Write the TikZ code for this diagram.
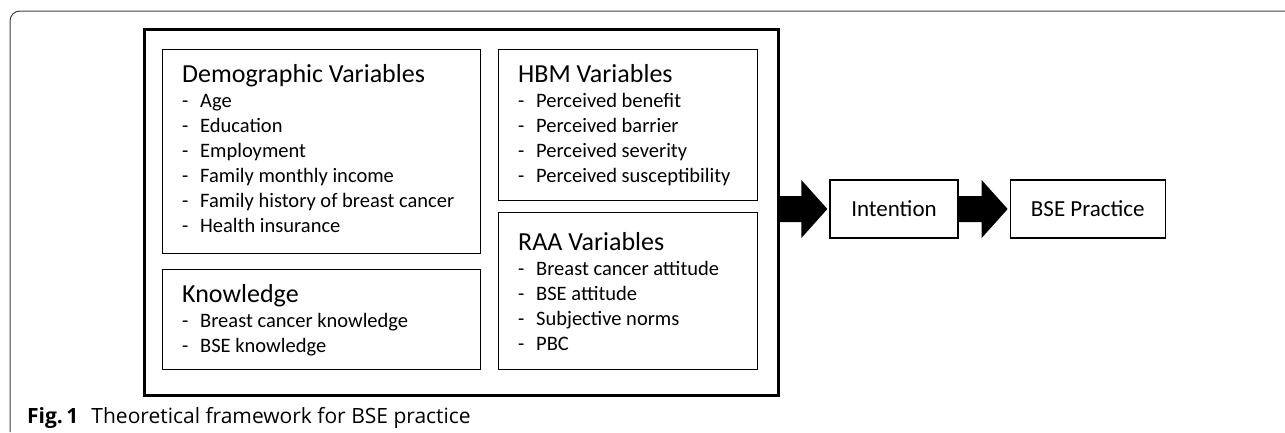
\documentclass[tikz,border=0pt]{standalone}
\usepackage{fontspec}
\setmainfont{Carlito}
\newfontfamily\capfont{Open Sans}
\usetikzlibrary{positioning,calc}

\tikzset{
  box/.style={draw,line width=1.3pt,anchor=north west,inner sep=0pt},
  heading/.style={font=\fontsize{26}{25}\selectfont,anchor=base west,inner sep=0pt},
  entry/.style={font=\fontsize{20.5}{25}\selectfont,anchor=base west,inner sep=0pt},
  stage/.style={draw,line width=1.3pt,minimum height=58pt,font=\fontsize{23}{25}\selectfont},
}
% dash in front of each entry
\newcommand\dashitem[1]{\makebox[18pt][l]{-}#1}
% big filled block arrow between two nodes
\newcommand\blockarrow[2]{%
  \fill let \p1=(#1), \p2=(#2) in
    (\x1,\y2+13) -- (\x2-28,\y2+13) -- (\x2-28,\y2+29) -- (\x2-2,\y2)
    -- (\x2-28,\y2-29) -- (\x2-28,\y2-13) -- (\x1,\y2-13) -- cycle;}

\begin{document}
\begin{tikzpicture}[x=1pt,y=-1pt]
\useasboundingbox (0,0) rectangle (1285,432);

% figure frame
\draw[line width=1pt,black!75,rounded corners=10pt] (10,432) -- (10,11) -- (1285,11);

% outer block
\node[draw,line width=3pt,anchor=north west,minimum width=634pt,minimum height=366pt,inner sep=0pt]
  (model) at (143,28) {};

% demographic variables
\node[box,minimum width=318pt,minimum height=204pt] (demo) at (162,49) {};
\node[heading] (demo-t) at ($(demo.north west)+(20,33)$) {Demographic Variables};
\foreach \t [count=\i] in {Age,Education,Employment,Family monthly income,
    Family history of breast cancer,Health insurance}
  \node[entry] (demo-\i) at ($(demo.north west)+(20,33+25*\i)$) {\dashitem{\t}};

% knowledge
\node[box,minimum width=318pt,minimum height=100pt] (know) at (162,269) {};
\node[heading] (know-t) at ($(know.north west)+(20,33)$) {Knowledge};
\foreach \t [count=\i] in {Breast cancer knowledge,BSE knowledge}
  \node[entry] (know-\i) at ($(know.north west)+(20,33+25*\i)$) {\dashitem{\t}};

% HBM variables
\node[box,minimum width=259pt,minimum height=151pt] (hbm) at (498,49) {};
\node[heading] (hbm-t) at ($(hbm.north west)+(20,33)$) {HBM Variables};
\foreach \t [count=\i] in {Perceived benefit,Perceived barrier,Perceived severity,
    Perceived susceptibility}
  \node[entry] (hbm-\i) at ($(hbm.north west)+(20,33+25*\i)$) {\dashitem{\t}};

% RAA variables
\node[box,minimum width=259pt,minimum height=157pt] (raa) at (498,212) {};
\node[heading] (raa-t) at ($(raa.north west)+(20,38)$) {RAA Variables};
\foreach \t [count=\i] in {Breast cancer attitude,BSE attitude,Subjective norms,PBC}
  \node[entry] (raa-\i) at ($(raa.north west)+(20,38+25*\i)$) {\dashitem{\t}};

% intention and practice
\node[stage,minimum width=128pt] (int) at (894,209) {Intention};
\node[stage,minimum width=155pt,right=51pt of int] (bse) {BSE Practice};

\blockarrow{model.east}{int.west}
\blockarrow{int.east}{bse.west}

% caption
\node[anchor=base west,inner sep=0pt,font=\capfont\fontsize{21}{24}\selectfont] (cap) at (27,423)
  {\textbf{Fig.\,1}\hspace{13pt}Theoretical framework for BSE practice};
\end{tikzpicture}
\end{document}
